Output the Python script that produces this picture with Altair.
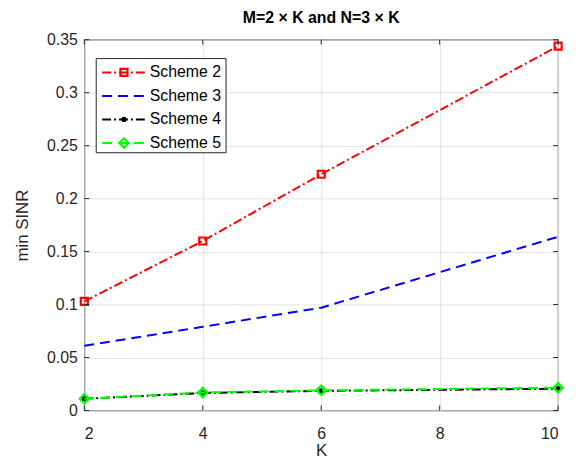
import altair as alt
import pandas as pd

K = [2, 4, 6, 10]
scheme2 = [0.103, 0.160, 0.223, 0.344]
scheme3 = [0.061, 0.079, 0.097, 0.164]
scheme4 = [0.011, 0.0165, 0.0185, 0.0205]
scheme5 = [0.011, 0.017, 0.019, 0.0215]

series = ["Scheme 2", "Scheme 3", "Scheme 4", "Scheme 5"]
colors = ["#ff0000", "#0000ff", "#000000", "#00ff00"]
dashes = [[9, 3, 2, 3], [10, 6], [9, 3, 2, 3], [10, 6]]
shapes = ["square", None, "circle", "diamond"]
filled = [False, False, True, False]
msizes = [50, 0, 28, 90]

x_ticks = [2, 4, 6, 8, 10]
y_ticks = [0, 0.05, 0.1, 0.15, 0.2, 0.25, 0.3, 0.35]

W, H = 478, 374
FONT = "Liberation Sans"
AX = "#262626"

xs = alt.Scale(domain=[2, 10], nice=False)
ys = alt.Scale(domain=[0, 0.35], nice=False)

values = [scheme2, scheme3, scheme4, scheme5]
layers = []

base_x = alt.X("K:Q", scale=xs,
               axis=alt.Axis(values=x_ticks, title="K", grid=True, tickSize=0, format="d",
                             labelPadding=15, titlePadding=1, domain=False))
base_y = alt.Y("v:Q", scale=ys,
               axis=alt.Axis(values=y_ticks, title="min SINR", grid=True, tickSize=0,
                             format="~g", labelPadding=7, titlePadding=15, domain=False))

for name, vals, col, dash, shp, fil, ms in zip(series, values, colors, dashes, shapes, filled, msizes):
    df = pd.DataFrame({"K": K, "v": vals, "s": name})
    line = alt.Chart(df).mark_line(color=col, strokeDash=dash, strokeWidth=2).encode(x=base_x, y=base_y)
    layers.append(line)
    if shp:
        pt = alt.Chart(df).mark_point(shape=shp, color=col, filled=fil, size=ms,
                                      strokeWidth=2.2, opacity=1).encode(x=base_x, y=base_y)
        layers.append(pt)

# inside ticks (MATLAB style)
xt = pd.DataFrame({"K": x_ticks})
yt = pd.DataFrame({"v": y_ticks})
tick_layers = [
    alt.Chart(xt).mark_rule(color=AX).encode(x=base_x, y=alt.value(H), y2=alt.value(H - 5)),
    alt.Chart(xt).mark_rule(color=AX).encode(x=base_x, y=alt.value(0), y2=alt.value(5)),
    alt.Chart(yt).mark_rule(color=AX).encode(y=base_y, x=alt.value(0), x2=alt.value(5)),
    alt.Chart(yt).mark_rule(color=AX).encode(y=base_y, x=alt.value(W), x2=alt.value(W - 5)),
]

# legend
leg = pd.DataFrame({"s": series, "i": [0, 1, 2, 3]})
lx0, lx1, ltop, lbot = 12, 143, 19, 114
box = alt.Chart(pd.DataFrame({"a": [0]})).mark_rect(fill="white", stroke=AX, strokeWidth=1).encode(
    x=alt.value(lx0), x2=alt.value(lx1), y=alt.value(ltop), y2=alt.value(lbot))
leg_layers = [box]
for i, (name, col, dash, shp, fil, ms) in enumerate(zip(series, colors, dashes, shapes, filled, msizes)):
    d = leg[leg.s == name]
    yy = 33 + i * 23.7
    leg_layers.append(alt.Chart(d).mark_rule(color=col, strokeDash=dash, strokeWidth=2).encode(
        x=alt.value(18), x2=alt.value(62), y=alt.value(yy)))
    if shp:
        leg_layers.append(alt.Chart(d).mark_point(shape=shp, color=col, filled=fil, size=ms,
                                                  strokeWidth=2.2, opacity=1).encode(
            x=alt.value(40), y=alt.value(yy)))
    leg_layers.append(alt.Chart(d).mark_text(align="left", baseline="middle", font=FONT,
                                             fontSize=16, color="#000000").encode(
        x=alt.value(66), y=alt.value(yy), text="s:N"))

chart = alt.layer(*layers, *tick_layers, *leg_layers).properties(
    width=W, height=H,
    title=alt.TitleParams("M=2 \u00d7 K and N=3 \u00d7 K", font=FONT, fontSize=16,
                          fontWeight="bold", color="#000000", offset=6),
    autosize=alt.AutoSizeParams(type="none"),
    padding={"left": 77, "top": 30, "right": 12, "bottom": 52},
    background="white",
).configure_view(stroke=AX, strokeWidth=1.2).configure_axis(
    labelFont=FONT, titleFont=FONT, labelFontSize=16, titleFontSize=17,
    labelColor=AX, titleColor=AX, titleFontWeight="normal",
    gridColor="#e3e3e3", gridWidth=1
)

chart.save("out.html", embed_options={"renderer": "svg", "actions": False})
